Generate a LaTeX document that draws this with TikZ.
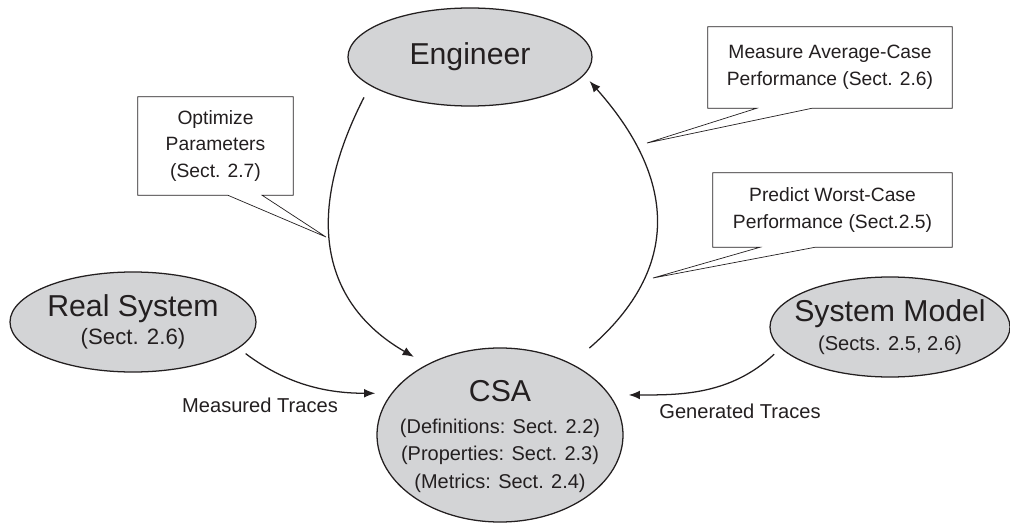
\documentclass[tikz,border=0pt]{standalone}
\usepackage{fontspec}
\setmainfont{Liberation Sans}
\usepackage{tikz}
\usetikzlibrary{shapes.geometric,arrows.meta,positioning,calc}
\definecolor{ovalfill}{RGB}{211,212,214}
\definecolor{inkcol}{RGB}{35,31,32}

\begin{document}
\begin{tikzpicture}[
      oval/.style={draw=inkcol, line width=0.9pt, ellipse, fill=ovalfill, inner sep=0pt},
      ovaltext/.style={align=center, text=inkcol, inner sep=0pt,
        font=\fontsize{14.3}{20}\selectfont},
      note/.style={inner sep=0pt, align=center, text=inkcol,
        font=\fontsize{13.7}{19}\selectfont},
      calloutline/.style={draw=inkcol, line width=0.5pt, fill=white},
      flow/.style={-{Latex[length=2.8mm,width=2.2mm]}, line width=0.9pt, draw=inkcol},
      lbl/.style={text=inkcol, font=\fontsize{14.3}{17}\selectfont}
    ]
    \useasboundingbox (0,0) rectangle (25.25,13.125);

    % Ovals
    \node[oval, minimum width=6.1cm, minimum height=2.45cm] (eng) at (11.75,11.7) {};
    \node[ovaltext] (engtext) at (eng) {\fontsize{21.5}{24}\selectfont Engineer};

    \node[oval, minimum width=6.15cm, minimum height=2.5cm] (real) at (3.325,5.075) {};
    \node[ovaltext, font=\fontsize{15.8}{20}\selectfont] (realtext) at (real)
      {{\fontsize{21.5}{24}\selectfont Real System}\\ (Sect. 2.6)};

    \node[oval, minimum width=6.15cm, minimum height=4.35cm] (csa) at (12.5,2.25) {};
    \node[ovaltext, font=\fontsize{14.2}{19.5}\selectfont, yshift=-0.03cm] (csatext) at (csa)
      {{\fontsize{21.5}{24}\selectfont CSA}\\[3.5pt]
       (Definitions: Sect. 2.2)\\
       (Properties: Sect. 2.3)\\
       (Metrics: Sect. 2.4)};

    \node[oval, minimum width=6.0cm, minimum height=2.5cm] (sysm) at (22.25,4.95) {};
    \node[ovaltext, font=\fontsize{14.3}{21}\selectfont] (sysmtext) at (sysm)
      {{\fontsize{21.5}{24}\selectfont System Model}\\ (Sects. 2.5, 2.6)};

    % Callout boxes
    \node[note, minimum width=3.875cm, minimum height=2.45cm] (opt) at (5.3875,9.475) {};
    \coordinate (opttip) at (8.15,7.2);
    \draw[calloutline] (opt.south west) -- (opt.north west) -- (opt.north east) -- (opt.south east)
      -- ($(opt.south west)!0.80!(opt.south east)$) -- (opttip)
      -- ($(opt.south west)!0.58!(opt.south east)$) -- cycle;
    \node[note] (opttext) at (opt) {Optimize\\Parameters\\(Sect. 2.7)};

    \node[note, minimum width=6.1cm, minimum height=2.025cm] (meas) at (20.75,11.4375) {};
    \coordinate (meastip) at (16.175,9.55);
    \draw[calloutline] (meas.south west) -- (meas.north west) -- (meas.north east) -- (meas.south east)
      -- ($(meas.south west)!0.426!(meas.south east)$) -- (meastip)
      -- ($(meas.south west)!0.20!(meas.south east)$) -- cycle;
    \node[note] (meastext) at (meas) {Measure Average-Case\\Performance (Sect. 2.6)};

    \node[note, minimum width=5.975cm, minimum height=1.85cm] (pred) at (20.8125,7.875) {};
    \coordinate (predtip) at (16.325,6.175);
    \draw[calloutline] (pred.south west) -- (pred.north west) -- (pred.north east) -- (pred.south east)
      -- ($(pred.south west)!0.427!(pred.south east)$) -- (predtip)
      -- ($(pred.south west)!0.197!(pred.south east)$) -- cycle;
    \node[note] (predtext) at (pred) {Predict Worst-Case\\Performance (Sect.2.5)};

    % Arrows
    \draw[flow, shorten <=0.33cm, shorten >=0.375cm]
      (eng.196.5) to[out=243, in=150, out distance=4cm, in distance=2.75cm] (csa.136.8);
    \draw[flow, shorten <=0.59cm, shorten >=0.2cm]
      (csa.45.4) to[out=40.8, in=311.7, out distance=3.7cm, in distance=3.4cm] (eng.351.6);
    \draw[flow, shorten <=0.22cm, shorten >=0.4cm]
      (real.-14.3) to[out=-37, in=180] (csa.159.9);
    \draw[flow, shorten <=0.22cm, shorten >=0.47cm]
      (sysm.191.6) to[out=223, in=0] (csa.20.1);

    \node[lbl] (mtrace) at (6.5,3.0) {Measured Traces};
    \node[lbl] (gtrace) at (18.5,2.85) {Generated Traces};
  \end{tikzpicture}
\end{document}
